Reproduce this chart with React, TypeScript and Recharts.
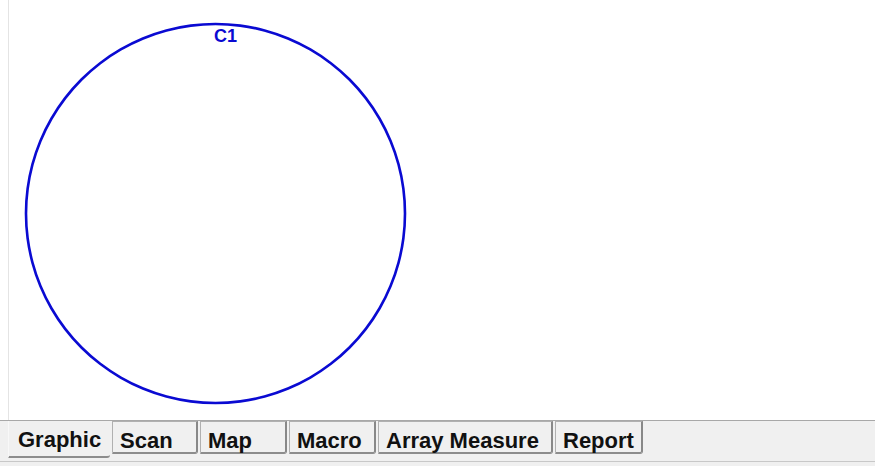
import React from 'react';
import { PieChart, Pie, Cell } from 'recharts';

const circleNames = ['C1'];
const circleValues = [360];
const tabNames = ['Graphic', 'Scan', 'Map', 'Macro', 'Array Measure', 'Report'];

// tab layout (left edge, width) in px
const tabLeft = [8, 112, 200, 289, 378, 555];
const tabWidth = [102, 86, 87, 87, 175, 88];

const data = circleNames.map((name, i) => ({ name, value: circleValues[i] }));

const BLUE = '#0a0ad2';

const renderLabel = (props: any) => {
	const { cx, cy, outerRadius, name } = props;
	return (
		<text
			x={cx + 10}
			y={cy - outerRadius + 19}
			textAnchor="middle"
			fill={BLUE}
			fontSize={18}
			fontWeight={600}
			fontFamily="'Liberation Sans', Arial, sans-serif"
		>
			{name}
		</text>
	);
};

const App: React.FC = () => {
	return (
		<div
			style={{
				position: 'absolute',
				left: 0,
				top: 0,
				width: 875,
				height: 466,
				background: '#ffffff',
				overflow: 'hidden',
				fontFamily: "'Liberation Sans', Arial, sans-serif",
			}}
		>
			<div style={{ position: 'absolute', left: 8, top: 0, width: 1, height: 420, background: '#e4e4e4' }} />
			<div style={{ position: 'absolute', left: 0, top: 0 }}>
				<PieChart width={875} height={420} margin={{ top: 0, right: 0, bottom: 0, left: 0 }}>
					<Pie
						data={data}
						dataKey="value"
						nameKey="name"
						cx={215.5}
						cy={213.5}
						innerRadius={188.2}
						outerRadius={190.8}
						startAngle={90}
						endAngle={-270}
						stroke="none"
						label={renderLabel}
						labelLine={false}
						isAnimationActive={false}
					>
						{data.map((d) => (
							<Cell key={d.name} fill={BLUE} />
						))}
					</Pie>
				</PieChart>
			</div>
			{/* tab strip */}
			<div
				style={{
					position: 'absolute',
					left: 0,
					top: 420,
					width: 875,
					height: 46,
					background: '#f0f0f0',
					borderTop: '1px solid #a8a8a8',
					boxSizing: 'border-box',
				}}
			/>
			<div style={{ position: 'absolute', left: 0, top: 461, width: 875, height: 1, background: '#c8c8c8' }} />
			{tabNames.map((name, i) => {
				const selected = i === 0;
				return (
					<div
						key={name}
						style={{
							position: 'absolute',
							left: tabLeft[i],
							top: 421,
							width: tabWidth[i],
							height: selected ? 37 : 33,
							boxSizing: 'border-box',
							background: '#f0f0f0',
							borderLeft: selected ? '1px solid #f8f8f8' : '1px solid #b0b0b0',
							borderTop: selected ? 'none' : '1px solid #b0b0b0',
							borderRight: selected ? 'none' : '2px solid #888888',
							borderBottom: '2px solid #8c8c8c',
							borderBottomRightRadius: 3,
							paddingLeft: selected ? 9 : 7,
							paddingTop: 3,
							fontSize: 22,
							fontWeight: 'bold',
							color: '#111111',
							lineHeight: '32px',
							whiteSpace: 'nowrap',
							overflow: 'visible',
						}}
					>
						{name}
					</div>
				);
			})}
		</div>
	);
};

export default App;
